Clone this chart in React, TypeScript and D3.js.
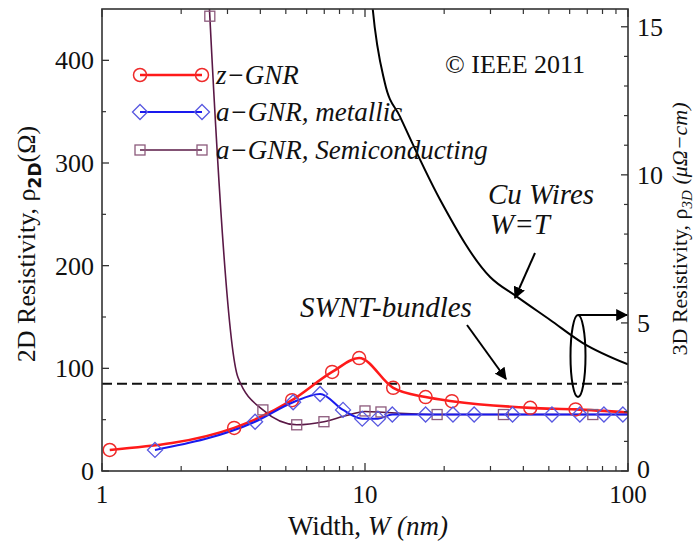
import React from 'react';
import * as d3 from 'd3';

// z-GNR (red circles) – 2D resistivity (Ω)
const zgnrW = [1.07, 3.18, 5.28, 7.5, 9.5, 12.8, 17.0, 21.4, 42.5, 63.2, 100];
const zgnrRho = [20.5, 42, 69, 96.5, 110, 81, 72, 68, 61.5, 60, 57];
const zgnrMarkerCount = 10;

// a-GNR metallic (blue diamonds)
const metW = [1.59, 3.82, 5.33, 6.75, 8.25, 9.76, 11.2, 12.7, 17.0, 21.6, 26.0, 36.4, 51.4, 65.6, 81.0, 95.6];
const metRho = [20.5, 48, 67, 75, 59.5, 51, 51, 55, 55, 55, 55, 55, 55, 55, 55, 55];

// a-GNR semiconducting (purple squares) – line and markers
const semiLineW = [2.555, 2.57, 3.29, 4.09, 5.5, 6.98, 8.5, 10.0, 12.0, 18.8, 33.6, 73.5, 100];
const semiLineRho = [456, 443, 91, 59.5, 45, 48, 54, 58, 57, 55, 55, 55, 55];
const semiMarkW = [2.57, 4.09, 5.5, 6.98, 10.0, 11.5, 18.8, 33.6, 73.5];
const semiMarkRho = [443, 59.5, 45, 48, 58.5, 57.5, 55, 55, 55];

// Cu wires W=T – 3D resistivity (µΩ-cm)
const cuW = [10.6, 10.7, 11.9, 13.6, 19.3, 29.9, 37.9, 50.6, 67.4, 100];
const cuRho = [16.0, 15.6, 13.1, 11.96, 9.16, 6.55, 5.88, 5.1, 4.32, 3.6];

// SWNT bundles – 3D resistivity (µΩ-cm)
const swntRho = 2.95;

const xMajor = [1, 10, 100];
const yLeftTicks = [0, 100, 200, 300, 400];
const yRightTicks = [0, 5, 10, 15];

const legendLabels = ['z\u2212GNR', 'a\u2212GNR, metallic', 'a\u2212GNR, Semiconducting'];

export default function App() {
  const W = 696, H = 542;
  const L = 102, R = 628, T = 9, B = 471;
  const x = d3.scaleLog().domain([1, 100]).range([L, R]);
  const yL = d3.scaleLinear().domain([0, 450]).range([B, T]);
  const yR = d3.scaleLinear().domain([0, 15.6]).range([B, T]);

  const mk = (ws: number[], rs: number[], ys: any, curve: any) =>
    d3.line<number>().x((d) => x(d)).y((_, i) => ys(rs[i])).curve(curve)(ws) || '';

  const zPath = mk(zgnrW, zgnrRho, yL, d3.curveMonotoneX);
  const mPath = mk(metW.concat([100]), metRho.concat([55]), yL, d3.curveMonotoneX);
  const sPath = mk(semiLineW, semiLineRho, yL, d3.curveMonotoneX);
  const cuPath = mk(cuW, cuRho, yR, d3.curveMonotoneX);

  const minorX: number[] = [];
  [1, 10].forEach((dec) => { for (let k = 2; k <= 9; k++) minorX.push(dec * k); });
  const minorYL = [50, 150, 250, 350];
  const minorYR = d3.range(0, 16).filter((v) => v % 5 !== 0);

  const axisColor = '#333';
  const font = '"Liberation Serif", "Times New Roman", serif';
  const red = '#ff1a1a', blue = '#1a1aee', purple = '#5a1846';
  const circ = (cx: number, cy: number, k: string) => (
    <circle key={k} cx={cx} cy={cy} r={6.5} fill="none" stroke="#ee2a2a" strokeWidth={1.5} />
  );
  const diam = (cx: number, cy: number, k: string) => (
    <path key={k} d={`M${cx},${cy - 7.5}L${cx + 7.5},${cy}L${cx},${cy + 7.5}L${cx - 7.5},${cy}Z`} fill="none" stroke="#5858e0" strokeWidth={1.3} />
  );
  const sq = (cx: number, cy: number, k: string) => (
    <rect key={k} x={cx - 5} y={cy - 5} width={10} height={10} fill="none" stroke="#8c5a7c" strokeWidth={1.3} />
  );

  const legendY = [75, 112, 150];

  return (
    <svg width={W} height={H} style={{ position: 'absolute', left: 0, top: 0, background: '#fff' }} fontFamily={font}>
      <defs>
        <clipPath id="plot"><rect x={L} y={T} width={R - L} height={B - T} /></clipPath>
        <marker id="ah" viewBox="0 0 10 10" refX="9" refY="5" markerWidth="6" markerHeight="6" orient="auto">
          <path d="M0,0L10,5L0,10Z" fill="#000" />
        </marker>
      </defs>
      <rect x={0} y={0} width={W} height={H} fill="#fff" />

      {/* data lines */}
      <g clipPath="url(#plot)">
        <line x1={L} x2={R} y1={yR(swntRho)} y2={yR(swntRho)} stroke="#111" strokeWidth={2} strokeDasharray="10,5" />
        <path d={cuPath} fill="none" stroke="#000" strokeWidth={2} />
        <path d={sPath} fill="none" stroke={purple} strokeWidth={1.6} />
        <path d={zPath} fill="none" stroke={red} strokeWidth={2.6} />
        <path d={mPath} fill="none" stroke={blue} strokeWidth={2} />
        {semiMarkW.map((w, i) => sq(x(w), yL(semiMarkRho[i]), 's' + i))}
        {zgnrW.slice(0, zgnrMarkerCount).map((w, i) => circ(x(w), yL(zgnrRho[i]), 'c' + i))}
        {metW.map((w, i) => diam(x(w), yL(metRho[i]), 'd' + i))}
      </g>

      {/* frame */}
      <rect x={L} y={T} width={R - L} height={B - T} fill="none" stroke={axisColor} strokeWidth={1.6} />
      {/* x ticks bottom & top */}
      {xMajor.map((v) => (
        <g key={'xm' + v}>
          <line x1={x(v)} x2={x(v)} y1={B} y2={B - 8} stroke={axisColor} strokeWidth={1.3} />
          <line x1={x(v)} x2={x(v)} y1={T} y2={T + 8} stroke={axisColor} strokeWidth={1.3} />
          <text x={x(v)} y={503} textAnchor="middle" fontSize={25} fill="#111">{v}</text>
        </g>
      ))}
      {minorX.map((v) => (
        <g key={'xn' + v}>
          <line x1={x(v)} x2={x(v)} y1={B} y2={B - 5} stroke={axisColor} strokeWidth={1.2} />
          <line x1={x(v)} x2={x(v)} y1={T} y2={T + 5} stroke={axisColor} strokeWidth={1.2} />
        </g>
      ))}
      {/* left ticks */}
      {yLeftTicks.map((v) => (
        <g key={'yl' + v}>
          <line x1={L} x2={L + 7} y1={yL(v)} y2={yL(v)} stroke={axisColor} strokeWidth={1.3} />
          <text x={94} y={yL(v)} dy="0.35em" textAnchor="end" fontSize={26} fill="#111">{v}</text>
        </g>
      ))}
      {minorYL.map((v) => (
        <line key={'yln' + v} x1={L} x2={L + 4} y1={yL(v)} y2={yL(v)} stroke={axisColor} strokeWidth={1.2} />
      ))}
      {/* right ticks */}
      {yRightTicks.map((v) => (
        <g key={'yr' + v}>
          <line x1={R} x2={R - 7} y1={yR(v)} y2={yR(v)} stroke={axisColor} strokeWidth={1.3} />
          <text x={637} y={v === 0 ? yR(v) - 2 : yR(v)} dy="0.35em" textAnchor="start" fontSize={26} fill="#111">{v}</text>
        </g>
      ))}
      {minorYR.map((v) => (
        <line key={'yrn' + v} x1={R} x2={R - 4} y1={yR(v)} y2={yR(v)} stroke={axisColor} strokeWidth={1.2} />
      ))}

      {/* axis titles */}
      <text x={368} y={535} textAnchor="middle" fontSize={27} fill="#111">
        Width, <tspan fontStyle="italic">W (nm)</tspan>
      </text>
      <text transform="translate(35,244) rotate(-90)" textAnchor="middle" fontSize={26} fill="#111">
        2D Resistivity, ρ<tspan fontSize={17} fontWeight="bold" fontFamily="'DejaVu Sans', sans-serif" dy={6}>2D</tspan>
        <tspan dy={-6}>(Ω)</tspan>
      </text>
      <text transform="translate(687,229) rotate(-90)" textAnchor="middle" fontSize={22} fill="#111">
        3D Resistivity, ρ<tspan fontSize={15} fontStyle="italic" dy={5}>3D</tspan>
        <tspan dy={-5} fontStyle="italic"> (μΩ−cm)</tspan>
      </text>

      {/* legend */}
      {legendLabels.map((lab, i) => {
        const y = legendY[i];
        const col = [red, blue, purple][i];
        const sw = [2.6, 2, 1.6][i];
        const m = [circ, diam, sq][i];
        return (
          <g key={'lg' + i}>
            <line x1={140} x2={202} y1={y} y2={y} stroke={col} strokeWidth={sw} />
            {m(140, y, 'la' + i)}
            {m(202, y, 'lb' + i)}
            <text x={216} y={y + 9} fontSize={27} fontStyle="italic" fill="#111">{lab}</text>
          </g>
        );
      })}

      {/* annotations */}
      <text x={445} y={73} fontSize={26} fill="#111">© IEEE 2011</text>
      <text x={488} y={204} fontSize={29} fontStyle="italic" fill="#111">Cu Wires</text>
      <text x={490} y={234} fontSize={29} fontStyle="italic" fill="#111">W=T</text>
      <line x1={535} y1={253} x2={515} y2={298} stroke="#000" strokeWidth={2} markerEnd="url(#ah)" />
      <text x={300} y={317} fontSize={29} fontStyle="italic" fill="#111">SWNT-bundles</text>
      <line x1={467} y1={325} x2={506} y2={379} stroke="#000" strokeWidth={2} markerEnd="url(#ah)" />
      <ellipse cx={578} cy={356} rx={7.5} ry={41} fill="none" stroke="#000" strokeWidth={2} />
      <line x1={578} y1={315} x2={627} y2={315} stroke="#000" strokeWidth={2} markerEnd="url(#ah)" />
    </svg>
  );
}
